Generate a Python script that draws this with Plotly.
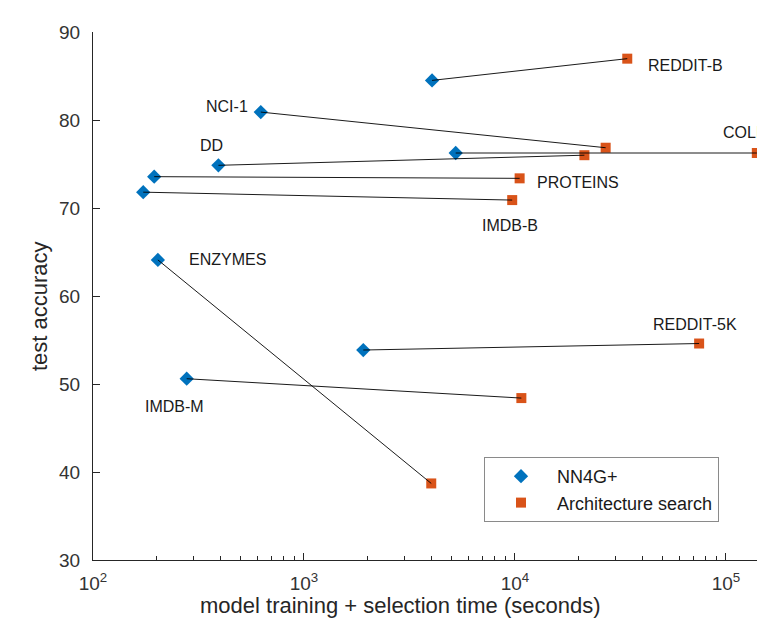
import plotly.graph_objects as go

datasets = ["REDDIT-B", "NCI-1", "DD", "COLLAB", "PROTEINS", "IMDB-B", "ENZYMES", "IMDB-M", "REDDIT-5K"]
nn4g_time = [4045, 624, 393, 5236, 195, 173, 203, 278, 1910]
nn4g_acc = [84.5, 80.9, 74.85, 76.25, 73.56, 71.8, 64.1, 50.6, 53.86]
arch_time = [34050, 26900, 21330, 140000, 10520, 9700, 4010, 10720, 74600]
arch_acc = [86.97, 76.85, 76.0, 76.25, 73.37, 70.9, 38.7, 48.4, 54.6]

# label anchor positions (log10 x, y)
label_x = [4.621, 2.526, 2.498, 4.976, 4.093, 3.834, 2.444, 2.238, 4.646]
label_y = [86.14, 81.5, 77.1, 78.6, 72.9, 68.0, 64.1, 47.4, 56.8]

x_title = "model training + selection time (seconds)"
y_title = "test accuracy"

blue = "#0072BD"
orange = "#D95319"
font_family = "Liberation Sans, Arial"

fig = go.Figure()
fig.add_trace(go.Scatter(x=nn4g_time, y=nn4g_acc, mode="markers", name="NN4G+",
                         marker=dict(symbol="diamond", size=11, color=blue)))
fig.add_trace(go.Scatter(x=arch_time, y=arch_acc, mode="markers", name="Architecture search",
                         marker=dict(symbol="square", size=10, color=orange)))
for i in range(len(datasets)):
    fig.add_trace(go.Scatter(x=[nn4g_time[i], arch_time[i]], y=[nn4g_acc[i], arch_acc[i]],
                             mode="lines", line=dict(color="black", width=0.9),
                             showlegend=False, hoverinfo="skip", cliponaxis=False))

for name, lx, ly in zip(datasets, label_x, label_y):
    fig.add_annotation(x=lx, y=ly, text=name, showarrow=False, xanchor="left", yanchor="middle",
                       font=dict(family=font_family, size=16, color="#1a1a1a"))

# axis titles (placed as in the reference)
fig.add_annotation(xref="paper", yref="paper", x=(400 - 93) / 664, y=-(605 - 560) / 528,
                   text=x_title, showarrow=False, xanchor="center", yanchor="middle",
                   font=dict(family=font_family, size=22, color="#262626"))
fig.add_annotation(xref="paper", yref="paper", x=-(93 - 39) / 664, y=(560 - 306) / 528,
                   text=y_title, showarrow=False, xanchor="center", yanchor="middle", textangle=-90,
                   font=dict(family=font_family, size=22, color="#262626"))

minor_vals = [m * 10 ** d for d in range(2, 6) for m in range(2, 10)]

fig.update_layout(
    width=757, height=626,
    margin=dict(l=93, r=0, t=32, b=66),
    plot_bgcolor="white", paper_bgcolor="white",
    font=dict(family=font_family, color="#262626"),
    showlegend=True,
    legend=dict(x=(484 - 93) / 664, y=(560 - 457) / 528, xanchor="left", yanchor="top",
                bordercolor="#8a8a8a", borderwidth=1, bgcolor="white",
                font=dict(size=18, color="#1a1a1a"), itemwidth=62,
                tracegroupgap=0),
    xaxis=dict(type="log", range=[2, 5.147],
               tickvals=[100, 1000, 10000, 100000],
               ticktext=["10<sup>2</sup>", "10<sup>3</sup>", "10<sup>4</sup>", "10<sup>5</sup>"],
               ticks="inside", ticklen=7, tickcolor="#262626", ticklabelstandoff=6,
               minor=dict(tickvals=minor_vals, ticks="inside", ticklen=4, tickcolor="#262626", showgrid=False),
               showline=True, linecolor="#262626", linewidth=1, mirror=False,
               showgrid=False, zeroline=False,
               tickfont=dict(size=19, color="#333333")),
    yaxis=dict(range=[30, 90], tickvals=[30, 40, 50, 60, 70, 80, 90],
               ticks="inside", ticklen=7, tickcolor="#262626", ticklabelstandoff=8,
               showline=True, linecolor="#262626", linewidth=1,
               showgrid=False, zeroline=False,
               tickfont=dict(size=19, color="#333333")),
)

fig.write_html("out.html")
